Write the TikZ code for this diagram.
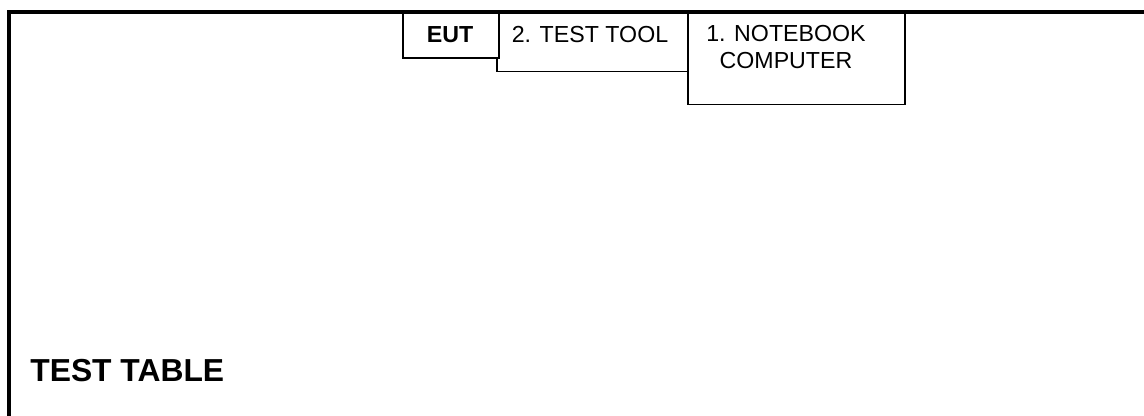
\documentclass[tikz,border=0pt]{standalone}
\usepackage{fontspec}
\setmainfont{Liberation Sans}
\usetikzlibrary{positioning}

\tikzset{
  frameline/.style={line width=2.6pt},
  boxline/.style={draw,line width=0.9pt,fill=white,inner sep=0pt},
  lbl/.style={font=\fontsize{13.2}{15.9}\selectfont,inner sep=0pt},
}

\begin{document}
\begin{tikzpicture}
  \useasboundingbox (0,0) rectangle (22.88,8.32);
  % table outline
  \coordinate (corner) at (0.18,8.076);
  \coordinate (tr) at (22.88,8.076);
  \coordinate (bl) at (0.18,0);
  \draw[frameline] (bl)--(corner)--(tr);
  % boxes on the table edge
  \node[boxline,anchor=north west,minimum width=3.82cm,minimum height=1.17cm] (tool) at (9.92,8.076) {};
  \node[boxline,anchor=north west,minimum width=1.92cm,minimum height=0.9cm] (eut) at (8.04,8.076) {};
  \node[boxline,anchor=north west,minimum width=4.34cm,minimum height=1.83cm] (nb) at (13.74,8.076) {};
  \draw[frameline] (corner)--(tr);
  \node[lbl,anchor=base] (eutl) at (9.0,7.466) {\textbf{EUT}};
  \node[lbl,anchor=base] (tooll) at (11.8,7.46) {2. TEST TOOL};
  \node[lbl,anchor=base,align=center] (nbl) at (15.72,6.94) {1. NOTEBOOK\\COMPUTER};
  \node[anchor=base west,inner sep=0pt,font=\fontsize{18.1}{21}\selectfont\bfseries] (table) at (0.6,0.686) {TEST TABLE};
\end{tikzpicture}
\end{document}
